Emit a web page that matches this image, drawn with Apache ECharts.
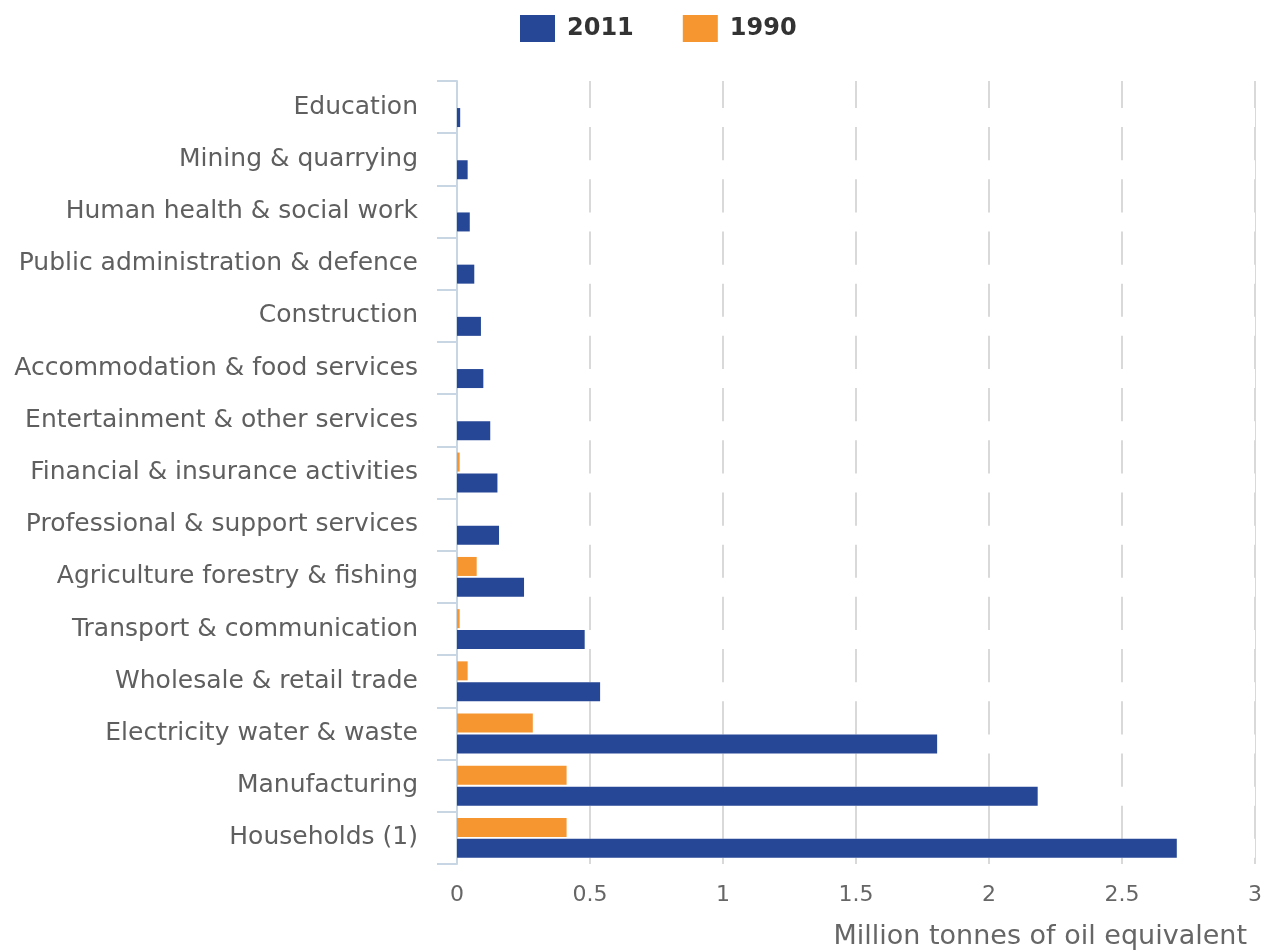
<!DOCTYPE html>
<html>
<head>
<meta charset="utf-8">
<title>Energy consumption by sector, 1990 and 2011</title>
<script src="https://cdn.jsdelivr.net/npm/echarts@6/dist/echarts.min.js"></script>
<style>
  html, body { margin: 0; padding: 0; background: #ffffff; }
  #chart { width: 1265px; height: 951px; }
</style>
</head>
<body>
<div id="chart"></div>
<script>
// Sectors, listed top to bottom
const sectors = [
  'Education',
  'Mining & quarrying',
  'Human health & social work',
  'Public administration & defence',
  'Construction',
  'Accommodation & food services',
  'Entertainment & other services',
  'Financial & insurance activities',
  'Professional & support services',
  'Agriculture forestry & fishing',
  'Transport & communication',
  'Wholesale & retail trade',
  'Electricity water & waste',
  'Manufacturing',
  'Households (1)'
];

// Million tonnes of oil equivalent
const values2011 = [0.012, 0.04, 0.048, 0.065, 0.09, 0.099, 0.125, 0.152, 0.158, 0.252, 0.48, 0.538, 1.805, 2.183, 2.706];
const values1990 = [null, null, null, null, null, null, null, 0.01, null, 0.074, 0.01, 0.04, 0.285, 0.412, 0.412];

const xTicks = { min: 0, max: 3, step: 0.5 };

const BLUE = '#264796';
const ORANGE = '#f59630';
const FONT = "'DejaVu Sans', sans-serif";

const chart = echarts.init(document.getElementById('chart'), null, { renderer: 'canvas' });

chart.setOption({
  backgroundColor: '#ffffff',
  animation: false,
  legend: {
    data: ['2011', '1990'],
    left: 520,
    top: 15,
    padding: 0,
    itemWidth: 35,
    itemHeight: 27,
    itemGap: 49,
    icon: 'rect',
    textStyle: {
      fontFamily: FONT,
      fontSize: 24,
      fontWeight: 'bold',
      color: '#333333',
      padding: [0, 0, 0, 7]
    }
  },
  grid: {
    left: 457,
    right: 10,
    top: 81,
    bottom: 87,
    containLabel: false
  },
  xAxis: {
    type: 'value',
    min: xTicks.min,
    max: xTicks.max,
    interval: xTicks.step,
    axisLine: { show: false },
    axisTick: { show: false },
    splitLine: { show: true, lineStyle: { color: '#d9d9d9', width: 2 } },
    axisLabel: {
      fontFamily: FONT,
      fontSize: 22,
      color: '#666666',
      margin: 20
    },
    name: 'Million tonnes of oil equivalent',
    nameLocation: 'end',
    nameGap: -8,
    nameTextStyle: {
      fontFamily: FONT,
      fontSize: 27,
      color: '#666666',
      align: 'right',
      verticalAlign: 'top',
      padding: [59, 0, 0, 0]
    }
  },
  yAxis: {
    type: 'category',
    data: sectors,
    inverse: true,
    axisLine: { show: true, lineStyle: { color: '#c8d5e3', width: 2 } },
    axisTick: { show: true, length: 20, lineStyle: { color: '#c8d5e3', width: 2 } },
    splitLine: { show: false },
    axisLabel: {
      fontFamily: FONT,
      fontSize: 25,
      color: '#5f5f5f',
      margin: 39,
      padding: [5, 0, 0, 0]
    }
  },
  series: [
    {
      name: '1990',
      type: 'bar',
      data: values1990,
      barWidth: 19,
      barGap: '10%',
      itemStyle: { color: ORANGE }
    },
    {
      name: '2011',
      type: 'bar',
      data: values2011,
      barWidth: 19,
      barGap: '10%',
      showBackground: true,
      backgroundStyle: { color: '#ffffff' },
      itemStyle: { color: BLUE }
    }
  ]
});
</script>
</body>
</html>
